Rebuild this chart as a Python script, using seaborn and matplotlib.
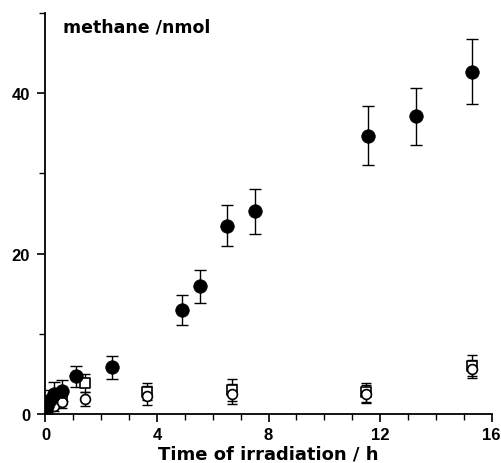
import matplotlib
matplotlib.use("Agg")
import matplotlib.pyplot as plt
import seaborn as sns
import pandas as pd
from matplotlib.ticker import MultipleLocator

# filled circles
fill_x = [0.05, 0.15, 0.3, 0.6, 1.1, 2.4, 4.9, 5.55, 6.5, 7.5, 11.55, 13.3, 15.3]
fill_y = [1.0, 1.8, 2.5, 2.9, 4.7, 5.8, 13.0, 15.9, 23.5, 25.3, 34.7, 37.1, 42.7]
fill_e = [1.0, 1.2, 1.5, 1.3, 1.3, 1.4, 1.9, 2.1, 2.6, 2.8, 3.7, 3.6, 4.1]

# open circles
circ_x = [0.1, 0.3, 0.6, 1.4, 3.65, 6.7, 11.5, 15.3]
circ_y = [0.7, 1.0, 1.5, 1.9, 2.3, 2.5, 2.5, 5.6]
circ_e = [0.5, 0.6, 0.8, 0.9, 1.2, 1.3, 1.1, 1.1]

# open squares
sq_x = [0.1, 0.3, 0.6, 1.4, 3.65, 6.7, 11.5, 15.3]
sq_y = [1.0, 1.4, 2.0, 3.9, 2.8, 3.0, 2.7, 6.0]
sq_e = [0.5, 0.6, 0.8, 1.1, 1.1, 1.4, 1.2, 1.3]

sns.set_style("ticks", {"axes.edgecolor": "black", "text.color": "black",
                        "axes.labelcolor": "black", "xtick.color": "black",
                        "ytick.color": "black"})
plt.rcParams['font.family'] = ['Liberation Sans', 'DejaVu Sans']
plt.rcParams['font.weight'] = 'bold'

fig = plt.figure(figsize=(5.01, 4.64), dpi=100)
ax = fig.add_axes([0.0908, 0.1056, 0.8906, 0.8642])

df_f = pd.DataFrame({"x": fill_x, "y": fill_y})
df_c = pd.DataFrame({"x": circ_x, "y": circ_y})
df_s = pd.DataFrame({"x": sq_x, "y": sq_y})

ax.errorbar(circ_x, circ_y, yerr=circ_e, fmt='none', ecolor='black',
            elinewidth=1.0, capsize=3.5, capthick=1.0, zorder=2)
ax.errorbar(sq_x, sq_y, yerr=sq_e, fmt='none', ecolor='black',
            elinewidth=1.0, capsize=3.5, capthick=1.0, zorder=2)
ax.errorbar(fill_x, fill_y, yerr=fill_e, fmt='none', ecolor='black',
            elinewidth=1.0, capsize=4.2, capthick=1.0, zorder=2)

sns.scatterplot(data=df_s, x="x", y="y", ax=ax, marker='s', s=45,
                facecolor='white', edgecolor='black', linewidth=1.2, zorder=3)
sns.scatterplot(data=df_c, x="x", y="y", ax=ax, marker='o', s=50,
                facecolor='white', edgecolor='black', linewidth=1.2, zorder=4)
sns.scatterplot(data=df_f, x="x", y="y", ax=ax, marker='o', s=95,
                color='black', edgecolor='black', linewidth=0.5, zorder=5)

ax.set_xlim(0, 16)
ax.set_ylim(0, 50)
ax.xaxis.set_major_locator(MultipleLocator(4))
ax.xaxis.set_minor_locator(MultipleLocator(1))
ax.yaxis.set_major_locator(MultipleLocator(20))
ax.yaxis.set_minor_locator(MultipleLocator(10))
ax.tick_params(which='major', direction='out', length=6, width=1.2, labelsize=12,
               colors='black')
ax.tick_params(which='minor', direction='out', length=4, width=1.0, colors='black')
ax.tick_params(axis='y', which='major', pad=5)
ax.tick_params(axis='x', which='major', pad=3.5)
for lab in ax.get_xticklabels() + ax.get_yticklabels():
    lab.set_fontweight('bold')

sns.despine(ax=ax)
for sp in ('left', 'bottom'):
    ax.spines[sp].set_linewidth(1.3)
    ax.spines[sp].set_color('black')

ax.set_xlabel("Time of irradiation / h", fontsize=13, fontweight='bold',
              family=['DejaVu Sans'], labelpad=2, color='black')
ax.set_ylabel("")
ax.text(0.04, 0.99, "methane /nmol", transform=ax.transAxes, fontsize=12.5,
        fontweight='bold', family=['DejaVu Sans'], va='top', ha='left',
        color='black')

fig.savefig("out.png", dpi=100)
